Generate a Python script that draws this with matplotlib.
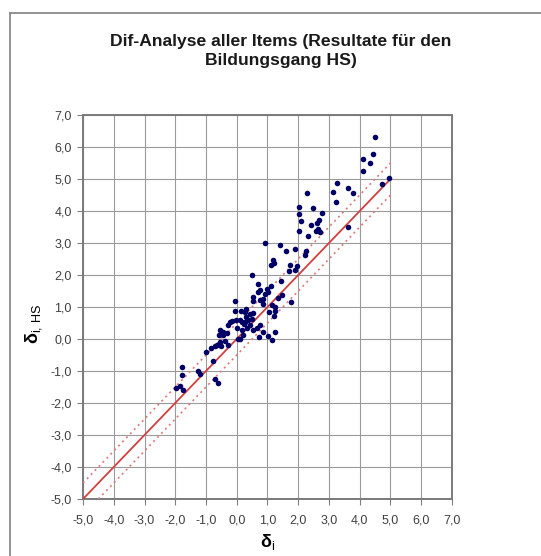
import matplotlib
matplotlib.use("Agg")
import matplotlib.pyplot as plt
from matplotlib.lines import Line2D
import numpy as np

plt.rcParams['font.family'] = ['Liberation Sans', 'DejaVu Sans']
plt.rcParams['mathtext.fontset'] = 'custom'
plt.rcParams['mathtext.rm'] = 'Liberation Sans'
plt.rcParams['mathtext.bf'] = 'Liberation Sans:bold'
plt.rcParams['mathtext.it'] = 'Liberation Sans:italic'

title = "Dif-Analyse aller Items (Resultate für den\nBildungsgang HS)"
x_label = r"$\mathbf{δ}_{\mathrm{i}}$"
y_label = r"$\mathbf{δ}_{\mathrm{i,\,HS}}$"

ticks = [-5, -4, -3, -2, -1, 0, 1, 2, 3, 4, 5, 6, 7]
tick_labels = ["-5,0", "-4,0", "-3,0", "-2,0", "-1,0", "0,0", "1,0", "2,0",
               "3,0", "4,0", "5,0", "6,0", "7,0"]

# item difficulties: overall (delta_i) and for HS (delta_i,HS)
delta_i = [
    -1.79, -1.77, -1.96, -1.85, -1.76, -1.27, -1.20, -0.70, -0.60, -0.76,
    -0.99, -0.84, -0.72,
    -0.65, -0.55, -0.50, -0.57, -0.44, -0.37, -0.30, -0.33, -0.46, -0.54,
    -0.27, -0.22, -0.16,
    0.10, 0.05, 0.19, -0.02, 0.11, 0.16, 0.22, 0.27, 0.38, 0.43, 0.32,
    0.16, 0.02, 0.49, 0.52, 0.65, 0.76, 0.86, 0.73, 1.03, 1.14, 1.24,
    -0.06, -0.06, 0.13, 0.27, 0.30, 0.30, 0.43, 0.54,
    0.54, 0.52, 0.76, 0.86, 0.84, 1.14, 1.24, 1.24, 1.06, 1.22,
    0.70, 0.76, 0.70, 1.10, 0.97, 1.03, 0.92, 1.46, 1.35, 1.75, 1.45,
    0.49, 1.19, 1.10, 1.22,
    1.74, 1.95, 1.91, 1.70,
    0.92, 1.42, 1.89, 1.60, 2.25, 2.21,
    2.27, 2.03, 2.03, 2.08, 2.03, 2.47, 2.76, 2.69, 2.62, 2.40, 2.58,
    2.71, 2.65, 2.33,
    3.25, 3.14, 3.23, 3.63, 3.79, 3.63,
    4.50, 4.42, 4.12, 4.33, 4.10, 4.95, 4.71,
]
delta_i_hs = [
    -0.87, -1.13, -1.54, -1.48, -1.59, -0.99, -1.09, -1.24, -1.38, -0.68,
    -0.40, -0.27, -0.23,
    -0.18, -0.08, -0.22, 0.12, 0.12, -0.05, -0.18, 0.18, 0.22, 0.27,
    0.44, 0.52, 0.56,
    0.00, 0.00, 0.12, 0.60, 0.60, 0.53, 0.47, 0.53, 0.58, 0.43, 0.35,
    0.27, 0.35, 0.63, 0.27, 0.35, 0.43, 0.22, 0.07, 0.10, -0.04, 0.22,
    1.18, 0.89, 0.87, 0.84, 0.94, 0.70, 0.77, 0.81,
    1.31, 1.20, 1.22, 1.26, 1.08, 1.05, 1.00, 0.89, 0.84, 0.73,
    1.73, 1.52, 1.46, 1.67, 1.57, 1.46, 1.41, 1.37, 1.29, 1.15, 1.82,
    1.99, 2.48, 2.32, 2.36,
    2.30, 2.29, 2.15, 2.13,
    3.00, 2.93, 2.81, 2.75, 2.74, 2.64,
    4.55, 4.11, 3.92, 3.68, 3.37, 4.10, 3.95, 3.73, 3.62, 3.55, 3.39,
    3.34, 3.45, 3.21,
    4.86, 4.58, 4.28, 4.72, 4.55, 3.50,
    6.30, 5.77, 5.62, 5.50, 5.24, 5.02, 4.83,
]

ident_x = [-5, 5]
band_offset = 0.5

W, H = 541, 556
fig = plt.figure(figsize=(W / 100, H / 100), dpi=100)
ax = fig.add_axes([83 / W, 1 - 499 / H, (452 - 83) / W, (499 - 115) / H])

ax.set_xlim(-5, 7)
ax.set_ylim(-5, 7)
ax.set_xticks(ticks)
ax.set_yticks(ticks)
ax.set_xticklabels(tick_labels)
ax.set_yticklabels(tick_labels)
ax.grid(True, color='#9a9a9a', linewidth=0.8)
ax.set_axisbelow(True)

for s in ax.spines.values():
    s.set_color('#7a7a7a')
    s.set_linewidth(1.4)

ax.tick_params(axis='both', colors='#808080', length=4, width=0.8,
               labelsize=9, labelcolor='#404040')
ax.tick_params(axis='x', pad=7)
ax.tick_params(axis='y', pad=4)

ix = np.array(ident_x, dtype=float)
ax.plot(ix, ix, color='#d04040', linewidth=1.3, zorder=3)
ax.plot(ix, ix + band_offset, color='#e07878', linewidth=1.2,
        linestyle=(0, (1.2, 2.2)), zorder=3)
ax.plot(np.array([ix[0] + band_offset, ix[1]]),
        np.array([ix[0] + band_offset, ix[1]]) - band_offset,
        color='#e07878', linewidth=1.2, linestyle=(0, (1.2, 2.2)), zorder=3)

ax.scatter(delta_i, delta_i_hs, s=16, color='#000066', zorder=4,
           linewidths=0)

ax.set_xlabel(x_label, fontsize=13, labelpad=4)
ax.set_ylabel(y_label, fontsize=13)
ax.yaxis.set_label_coords(-0.105, 0.455)

fig.text(281 / W, 1 - 51 / H, title, ha='center', va='center',
         fontsize=12.6, fontweight='bold', linespacing=1.32, color='#1a1a1a')

# chart-area border
fig.add_artist(Line2D([10 / W, 1.0], [1 - 13 / H, 1 - 13 / H],
                      transform=fig.transFigure, color='#8a8a8a', linewidth=1.3))
fig.add_artist(Line2D([10 / W, 10 / W], [0.0, 1 - 13 / H],
                      transform=fig.transFigure, color='#8a8a8a', linewidth=1.3))

fig.savefig("out.png", dpi=100)
